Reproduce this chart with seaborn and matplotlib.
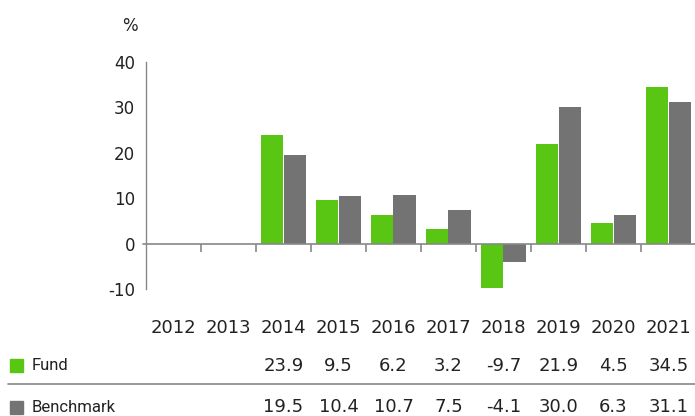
import matplotlib
matplotlib.use("Agg")
import matplotlib.pyplot as plt
import matplotlib.transforms as mtransforms
import matplotlib.patches as mpatches
import numpy as np
import pandas as pd
import seaborn as sns

years = ["2012", "2013", "2014", "2015", "2016", "2017", "2018", "2019", "2020", "2021"]
fund = [np.nan, np.nan, 23.9, 9.5, 6.2, 3.2, -9.7, 21.9, 4.5, 34.5]
benchmark = [np.nan, np.nan, 19.5, 10.4, 10.7, 7.5, -4.1, 30.0, 6.3, 31.1]
series_names = ["Fund", "Benchmark"]
yticks = [-10, 0, 10, 20, 30, 40]

GREEN = "#5AC614"
GRAY = "#737373"
AXIS = "#888888"
TEXT = "#222222"

sns.set_theme(style="white")
plt.rcParams["font.family"] = ["DejaVu Sans"]

df = pd.DataFrame({
    "year": years * 2,
    "value": fund + benchmark,
    "series": [series_names[0]] * len(years) + [series_names[1]] * len(years),
})

fig = plt.figure(figsize=(6.95, 4.16), dpi=100)
ax = fig.add_axes([146 / 695, 1 - 289 / 416, 550 / 695, (289 - 62) / 416])

sns.barplot(data=df, x="year", y="value", hue="series", order=years,
            hue_order=series_names, palette=[GREEN, GRAY], width=0.83,
            saturation=1, legend=False, ax=ax, errorbar=None, linewidth=0)

ax.set_ylim(-10, 40)
ax.set_xlim(-0.5, len(years) - 0.5)
ax.set_yticks(yticks)
ax.set_yticklabels([str(t) for t in yticks], fontsize=12, color=TEXT)
ax.tick_params(axis="y", length=0, pad=8)
ax.set_xticks([])
ax.set_xlabel("")
ax.set_ylabel("")
for s in ["top", "right", "bottom"]:
    ax.spines[s].set_visible(False)
ax.spines["left"].set_color(AXIS)
ax.spines["left"].set_linewidth(1)

# zero line and category separators
ax.axhline(0, color=AXIS, lw=1.2, xmin=-0.005, clip_on=False, zorder=3)
ax.vlines([i + 0.5 for i in range(len(years) - 1)], -1.8, 0, color=AXIS, lw=1.2, zorder=3)

fig.text(130 / 695, 1 - 26 / 416, "%", fontsize=12, color=TEXT, ha="center", va="center")

# table below
trans = mtransforms.blended_transform_factory(ax.transData, fig.transFigure)
for i, y in enumerate(years):
    fig.text(i, 1 - 328 / 416, y, transform=trans, ha="center", va="center",
             fontsize=13, color=TEXT)
    if not np.isnan(fund[i]):
        fig.text(i, 1 - 366 / 416, f"{fund[i]:.1f}", transform=trans, ha="center",
                 va="center", fontsize=13, color=TEXT)
    if not np.isnan(benchmark[i]):
        fig.text(i, 1 - 407 / 416, f"{benchmark[i]:.1f}", transform=trans, ha="center",
                 va="center", fontsize=13, color=TEXT)

label_font = ["Roboto", "DejaVu Sans"]
for name, color, ypx in [(series_names[0], GREEN, 365), (series_names[1], GRAY, 407)]:
    fig.patches.append(mpatches.Rectangle((10 / 695, 1 - (ypx + 6.5) / 416), 13 / 695, 13 / 416,
                                          transform=fig.transFigure, color=color, figure=fig))
    fig.text(32 / 695, 1 - ypx / 416, name, ha="left", va="center", fontsize=12,
             color=TEXT, family=label_font)

fig.add_artist(plt.Line2D([8 / 695, 1.0], [1 - 384 / 416] * 2, color=AXIS, lw=1.2,
                          transform=fig.transFigure))

fig.savefig("out.png", dpi=100)
